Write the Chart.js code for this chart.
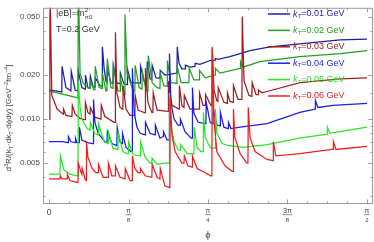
<!DOCTYPE html>
<html>
<head>
<meta charset="utf-8">
<script src="https://cdn.jsdelivr.net/npm/chart.js@4.4.0/dist/chart.umd.min.js"></script>
<style>
html, body { margin: 0; padding: 0; background: #fff; }
#wrap { width: 374px; height: 242px; position: relative; }
</style>
</head>
<body>
<div id="wrap"><canvas id="c"></canvas></div>
<script>
// phi in degrees (0..90 = 0..pi/2), rate in GeV^-2 fm^-4
const xTickValues = [0, 22.5, 45, 67.5, 90];
const xTickLabels = [['0'], ['π', '8'], ['π', '4'], ['3π', '8'], ['π', '2']];
const yTickValues = [0.005, 0.010, 0.020, 0.050];
const yTickLabels = ['0.005', '0.010', '0.020', '0.050'];
const yMinorValues = [0.003, 0.004, 0.006, 0.007, 0.008, 0.009, 0.015, 0.03, 0.04];
const seriesNames = ['0.01', '0.02', '0.03', '0.04', '0.05', '0.06'];
const seriesColors = ['#1e1ea6', '#22a022', '#a01e1e', '#1e1ee8', '#2ae62a', '#ec2020'];

const k001 = [[0,0.0158],[3.1,0.0154],[3.6,0.0153],[3.7,0.0229],[4.8,0.0164],[6.2,0.0156],[6.3,0.0212],[7.4,0.0158],
  [8.2,0.0155],[8.3,0.0212],[9.3,0.0164],[10.2,0.0160],[10.3,0.0200],[11.0,0.0164],[11.6,0.0162],[11.7,0.0196],
  [12.5,0.0166],[13.0,0.0165],[13.1,0.0191],[14.4,0.0169],[15.0,0.0168],[15.1,0.0311],[15.6,0.0222],[16.1,0.0182],
  [16.4,0.0178],[16.5,0.0222],[17.5,0.0177],[18.1,0.0175],[18.2,0.0233],[19.2,0.0177],[20.1,0.0174],[20.2,0.0206],
  [21.2,0.0174],[22.1,0.0172],[22.2,0.0219],[23.2,0.0177],[25.8,0.0176],[25.9,0.0229],[26.9,0.0182],[27.7,0.0180],
  [27.8,0.0247],[28.6,0.0188],[29.1,0.0186],[29.2,0.0233],[30.3,0.0191],[31.4,0.0190],[31.5,0.0215],[32.8,0.0200],
  [34.2,0.0202],[36.2,0.0206],[36.3,0.0311],[36.8,0.0240],[37.6,0.0220],[38.5,0.0220],[38.6,0.0233],[39.9,0.0226],
  [41.3,0.0229],[41.4,0.0240],[42.7,0.0236],[45.6,0.0251],[47.0,0.0253],[47.1,0.0259],[47.8,0.0256],[51.2,0.0267],
  [56.9,0.0293],[62.5,0.0311],[71.0,0.0326],[82.4,0.0347],[90,0.0352]];

const k002 = [[0,0.0156],[7.9,0.0140],[8.2,0.0139],[8.3,0.09],[8.8,0.0206],[9.6,0.0177],[11.0,0.0164],[11.6,0.0162],
  [11.7,0.0182],[12.7,0.0158],[13.0,0.0158],[13.1,0.0229],[14.2,0.0164],[15.0,0.0162],[15.1,0.0206],[16.1,0.0156],
  [16.4,0.0156],[16.5,0.0259],[17.5,0.0164],[18.1,0.0162],[18.2,0.0229],[19.5,0.0156],[20.1,0.0155],[20.2,0.0191],
  [21.2,0.0147],[21.4,0.0147],[21.5,0.0517],[22.1,0.0206],[23.8,0.0156],[24.3,0.0156],[24.4,0.0233],[25.5,0.0164],
  [26.3,0.0160],[26.4,0.0212],[27.5,0.0156],[28.0,0.0156],[28.1,0.0271],[29.2,0.0177],[30.6,0.0164],[31.4,0.0162],
  [31.5,0.0206],[32.5,0.0169],[33.4,0.0167],[33.5,0.0251],[34.5,0.0177],[36.2,0.0175],[36.3,0.0229],[37.4,0.0177],
  [39.6,0.0177],[39.7,0.0222],[41.0,0.0185],[42.5,0.0185],[42.6,0.0215],[44.2,0.0191],[47.0,0.0200],[47.1,0.0222],
  [48.4,0.0206],[54.1,0.0222],[54.2,0.0247],[54.9,0.0226],[59.7,0.0247],[71.0,0.0267],[82.4,0.0280],[90,0.0293]];

const k003 = [[0,0.0100],[0.25,0.09],[0.8,0.0145],[2.3,0.0117],[4.0,0.0108],[4.1,0.0117],[4.8,0.0106],[6.5,0.0104],
  [6.6,0.0124],[7.4,0.0108],[8.8,0.0101],[9.9,0.0099],[10.2,0.0099],[10.3,0.0130],[11.0,0.0111],[11.6,0.0108],
  [11.7,0.0120],[13.0,0.0103],[14.7,0.0100],[14.8,0.0124],[15.8,0.0104],[18.4,0.0095],[18.7,0.0095],[18.8,0.0392],
  [19.2,0.0151],[20.1,0.0120],[20.9,0.0117],[21.0,0.0169],[21.8,0.0117],[22.9,0.0106],[24.3,0.0106],[24.4,0.0145],
  [25.2,0.0115],[27.2,0.0110],[27.3,0.0222],[28.0,0.0130],[29.1,0.0111],[29.4,0.0111],[29.5,0.0151],[30.6,0.0115],
  [33.7,0.0113],[33.8,0.0182],[34.8,0.0124],[36.8,0.0117],[36.9,0.0169],[37.6,0.0124],[38.2,0.0120],[38.3,0.0145],
  [39.9,0.0117],[42.5,0.0117],[42.6,0.0151],[43.6,0.0124],[44.2,0.0124],[44.3,0.0147],[45.8,0.0124],[46.1,0.0124],
  [46.2,0.0302],[46.7,0.0158],[47.5,0.0133],[47.8,0.0132],[47.9,0.0164],[49.5,0.0130],[50.4,0.0128],[50.5,0.0151],
  [51.2,0.0132],[52.1,0.0130],[52.2,0.0169],[53.5,0.0136],[54.6,0.0136],[54.7,0.0501],[55.2,0.0182],[56.6,0.0145],
  [57.4,0.0143],[57.5,0.0177],[58.6,0.0147],[59.2,0.0147],[59.3,0.0158],[60.3,0.0151],[62.5,0.0156],[71.0,0.0177],
  [82.4,0.0188],[90,0.0191]];

const k004 = [[0,0.0070],[3.7,0.0070],[5.4,0.0069],[5.5,0.0076],[6.2,0.0070],[7.4,0.0069],[7.5,0.0074],[7.9,0.0069],
  [8.5,0.0069],[8.6,0.0088],[9.3,0.0072],[11.0,0.0069],[12.2,0.0068],[12.5,0.0068],[12.6,0.0136],[13.0,0.0095],
  [13.9,0.0080],[15.8,0.0070],[16.4,0.0069],[16.5,0.0082],[17.8,0.0068],[19.2,0.0066],[19.3,0.0088],[20.1,0.0070],
  [20.7,0.0068],[20.8,0.0080],[21.8,0.0064],[23.2,0.0060],[23.5,0.0060],[23.6,0.0222],[24.1,0.0110],[24.9,0.0088],
  [25.8,0.0080],[27.2,0.0078],[27.3,0.0095],[28.6,0.0080],[30.0,0.0078],[30.1,0.0091],[31.4,0.0074],[32.3,0.0076],
  [32.4,0.0082],[33.4,0.0072],[34.0,0.0072],[34.1,0.0280],[34.5,0.0130],[35.4,0.0100],[36.5,0.0091],[37.1,0.0091],
  [37.2,0.0100],[38.5,0.0082],[40.2,0.0074],[40.5,0.0074],[40.6,0.0164],[41.0,0.0110],[42.2,0.0095],[44.4,0.0093],
  [44.5,0.0130],[45.6,0.0095],[46.4,0.0093],[46.5,0.0117],[47.5,0.0091],[48.4,0.0090],[48.5,0.0111],[49.5,0.0088],
  [50.7,0.0086],[50.8,0.0095],[51.5,0.0086],[54.1,0.0088],[61.7,0.0093],[71.0,0.0111],[75.3,0.0117],[75.4,0.0134],
  [76.1,0.0120],[80.4,0.0124],[90,0.0128]];

const k005 = [[0,0.0042],[3.1,0.0042],[3.2,0.0056],[4.2,0.0045],[5.9,0.0042],[7.9,0.0041],[8.2,0.0041],[8.3,0.0182],
  [8.8,0.0120],[9.3,0.0100],[10.8,0.0086],[11.6,0.0084],[11.7,0.0095],[13.0,0.0079],[13.9,0.0078],[14.0,0.0093],
  [15.6,0.0070],[16.7,0.0068],[16.8,0.0082],[18.1,0.0063],[19.5,0.0062],[19.6,0.0080],[20.9,0.0060],[22.1,0.0058],
  [22.4,0.0058],[22.5,0.0070],[23.8,0.0057],[25.8,0.0056],[25.9,0.0070],[27.2,0.0055],[28.6,0.0050],[29.1,0.0050],
  [29.2,0.0054],[30.6,0.0049],[32.8,0.0050],[34.0,0.0050],[34.1,0.0151],[34.5,0.0090],[35.4,0.0070],[36.5,0.0062],
  [37.1,0.0061],[37.2,0.0067],[39.1,0.0058],[41.0,0.0058],[41.1,0.0088],[41.9,0.0064],[43.0,0.0060],[43.6,0.0060],
  [43.7,0.0111],[44.2,0.0075],[45.6,0.0064],[47.0,0.0063],[47.1,0.0117],[47.5,0.0080],[49.0,0.0068],[50.7,0.0066],
  [54.9,0.0064],[61.7,0.0067],[71.0,0.0074],[78.7,0.0079],[78.8,0.0088],[79.5,0.0080],[90,0.0088]];

const k006 = [[0,0.0039],[3.1,0.0039],[3.2,0.0041],[3.7,0.0039],[5.1,0.0039],[5.2,0.0042],[5.9,0.0038],[7.9,0.0037],
  [8.2,0.0037],[8.3,0.0050],[9.1,0.0043],[9.3,0.0042],[9.4,0.0046],[10.2,0.0039],[10.5,0.0038],[10.6,0.0070],
  [11.0,0.0055],[12.2,0.0046],[13.3,0.0043],[13.9,0.0043],[14.0,0.0049],[15.3,0.0040],[16.7,0.0040],[16.8,0.0050],
  [17.8,0.0041],[18.7,0.0041],[18.8,0.0048],[20.1,0.0040],[21.5,0.0039],[21.6,0.0046],[22.9,0.0038],[23.5,0.0038],
  [23.6,0.0056],[24.3,0.0046],[25.2,0.0043],[25.8,0.0043],[25.9,0.0046],[27.2,0.0041],[29.1,0.0040],[29.2,0.0049],
  [30.6,0.0040],[31.4,0.0039],[31.5,0.0046],[32.8,0.0035],[34.2,0.0034],[34.3,0.0140],[34.8,0.0078],[35.7,0.0060],
  [37.6,0.0050],[38.2,0.0050],[38.3,0.0056],[39.3,0.0048],[40.5,0.0047],[40.6,0.0056],[41.9,0.0046],[44.2,0.0043],
  [45.8,0.0041],[46.1,0.0041],[46.2,0.0311],[46.7,0.0100],[47.5,0.0060],[49.8,0.0048],[51.8,0.0044],[52.1,0.0044],
  [52.2,0.0117],[52.6,0.0075],[54.1,0.0058],[56.0,0.0050],[56.3,0.0050],[56.4,0.0120],[56.9,0.0075],[58.3,0.0060],
  [61.7,0.0053],[63.4,0.0052],[63.5,0.0070],[64.2,0.0056],[71.0,0.0058],[80.1,0.0062],[80.4,0.0062],[80.5,0.0070],
  [81.2,0.0062],[90,0.0065]];

const seriesData = [k001, k002, k003, k004, k005, k006];
const FONT = '"Liberation Sans", Arial, sans-serif';

// text with sub/superscripts: parts = [text, size, dy, style]
function rich(ctx, parts, x, y, align) {
  let w = 0;
  parts.forEach(p => { ctx.font = (p[3] || '') + ' ' + p[1] + 'px ' + FONT; w += ctx.measureText(p[0]).width; });
  let cx = align === 'center' ? x - w / 2 : x;
  parts.forEach(p => {
    ctx.font = (p[3] || '') + ' ' + p[1] + 'px ' + FONT;
    ctx.fillText(p[0], cx, y + (p[2] || 0));
    cx += ctx.measureText(p[0]).width;
  });
  return cx;
}

const decor = {
  id: 'decor',
  afterDraw(chart) {
    const { ctx, chartArea: a, scales: { x, y } } = chart;
    ctx.save();
    // frame + inward ticks
    ctx.strokeStyle = '#9a9a9a';
    ctx.lineWidth = 1;
    ctx.strokeRect(a.left + 0.5, a.top + 0.5, a.right - a.left - 1, a.bottom - a.top - 1);
    ctx.beginPath();
    for (let k = 0; k <= 16; k++) {
      const px = Math.round(x.getPixelForValue(k * 90 / 16)) + 0.5;
      const len = k % 4 === 0 ? 4.5 : 2.5;
      ctx.moveTo(px, a.bottom); ctx.lineTo(px, a.bottom - len);
      ctx.moveTo(px, a.top); ctx.lineTo(px, a.top + len);
    }
    yTickValues.concat(yMinorValues).forEach(v => {
      const py = Math.round(y.getPixelForValue(v)) + 0.5;
      const len = yTickValues.includes(v) ? 4.5 : 2.5;
      ctx.moveTo(a.left, py); ctx.lineTo(a.left + len, py);
      ctx.moveTo(a.right, py); ctx.lineTo(a.right - len, py);
    });
    ctx.stroke();

    // x tick labels (fractions of pi)
    ctx.fillStyle = '#444';
    ctx.textAlign = 'center';
    ctx.textBaseline = 'middle';
    xTickValues.forEach((v, i) => {
      const px = x.getPixelForValue(v);
      const lab = xTickLabels[i];
      if (lab.length === 1) {
        ctx.font = '8.5px ' + FONT;
        ctx.fillText(lab[0], px, a.bottom + 9);
      } else {
        ctx.font = '7px ' + FONT;
        ctx.fillText(lab[0], px, a.bottom + 7);
        const w = Math.max(ctx.measureText(lab[0]).width, 4) / 2 + 0.5;
        ctx.fillRect(px - w, a.bottom + 10.5, 2 * w, 0.6);
        ctx.font = '6px ' + FONT;
        ctx.fillText(lab[1], px, a.bottom + 16.5);
      }
    });
    ctx.font = '9.5px ' + FONT;
    ctx.fillText('ϕ', (a.left + a.right) / 2, a.bottom + 31);

    // y title
    ctx.save();
    ctx.translate(9, 118);
    ctx.rotate(-Math.PI / 2);
    ctx.textAlign = 'left';
    rich(ctx, [['d', 8], ['3', 5.5, -3], ['R/(', 8], ['k', 8], ['T', 5.5, 2], ['·dk', 8], ['T', 5.5, 2],
      ['·dϕdy) [GeV', 8], ['−2', 5.5, -3], ['fm', 8], ['−4', 5.5, -3], [']', 8]], 0, 0, 'center');
    ctx.restore();

    // annotations
    ctx.textAlign = 'left';
    ctx.fillStyle = '#333';
    let cx = rich(ctx, [['|eB|=m', 9]], 56, 14);
    ctx.font = '6px ' + FONT;
    ctx.fillText('2', cx + 0.3, 10.5);
    ctx.fillText('π0', cx + 0.3, 17.5);
    rich(ctx, [['T=0.2 GeV', 9]], 56, 30);

    // legend
    seriesNames.forEach((n, i) => {
      const ly = 14 + i * 16.4;
      ctx.strokeStyle = seriesColors[i];
      ctx.lineWidth = 1.5;
      ctx.beginPath();
      ctx.moveTo(268, ly); ctx.lineTo(290, ly);
      ctx.stroke();
      ctx.fillStyle = seriesColors[i];
      rich(ctx, [['k', 9, 0, 'italic'], ['T', 6, 2.5, 'italic'], ['=' + n + ' GeV', 9]], 293, ly);
    });
    ctx.restore();
  }
};

new Chart(document.getElementById('c'), {
  type: 'line',
  data: {
    datasets: seriesData.map((d, i) => ({
      label: 'kT=' + seriesNames[i] + ' GeV',
      data: d.map(p => ({ x: p[0], y: p[1] })),
      borderColor: seriesColors[i],
      borderWidth: 1.25,
      pointRadius: 0,
      tension: 0,
      fill: false,
      order: 6 - i
    }))
  },
  options: {
    responsive: true,
    maintainAspectRatio: false,
    animation: false,
    devicePixelRatio: 1,
    layout: { padding: { top: 3, right: 1, left: 0, bottom: 0 } },
    plugins: { legend: { display: false }, tooltip: { enabled: false } },
    scales: {
      x: {
        type: 'linear', min: -1.7, max: 91.7,
        grid: { display: false, drawTicks: false },
        border: { display: false },
        ticks: { display: false },
        afterFit: s => { s.height = 38; }
      },
      y: {
        type: 'logarithmic', min: 0.00263, max: 0.0575,
        grid: { display: false, drawTicks: false },
        border: { display: false },
        afterBuildTicks: s => { s.ticks = yTickValues.map(v => ({ value: v })); },
        ticks: {
          padding: 3,
          color: '#444',
          font: { size: 8, family: FONT },
          callback: (v) => yTickLabels[yTickValues.indexOf(v)]
        },
        afterFit: s => { s.width = 43; }
      }
    }
  },
  plugins: [decor]
});
</script>
</body>
</html>
